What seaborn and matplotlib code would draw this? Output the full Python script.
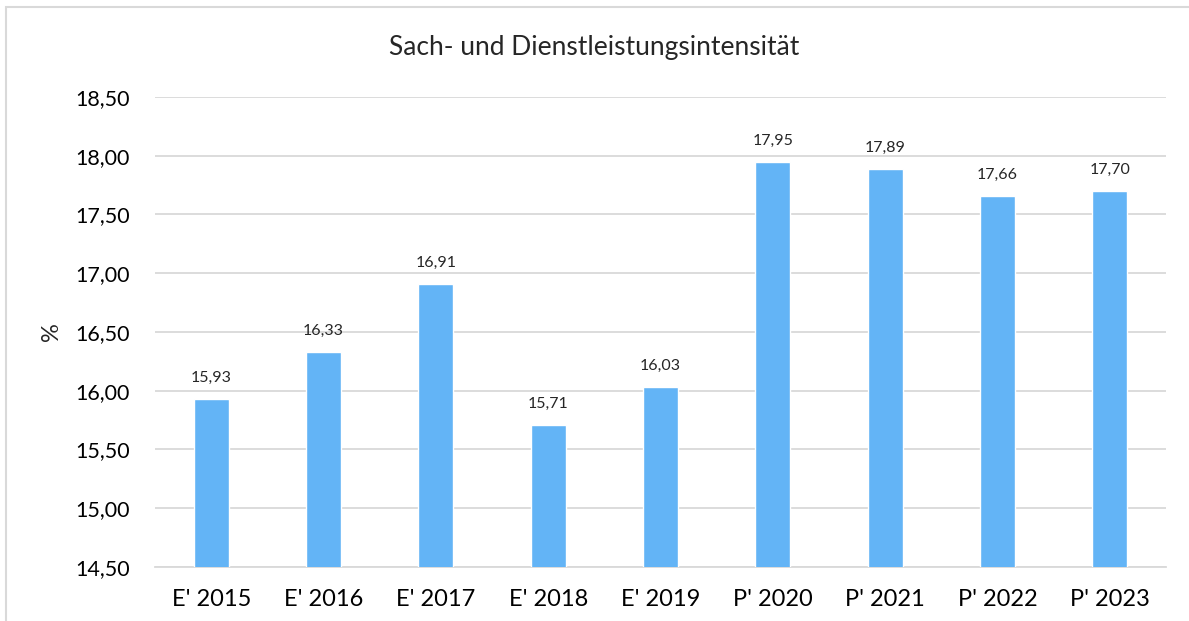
import matplotlib
matplotlib.use("Agg")
import matplotlib.pyplot as plt
import pandas as pd
import seaborn as sns
from matplotlib.patches import Rectangle

categories = ["E' 2015", "E' 2016", "E' 2017", "E' 2018", "E' 2019",
              "P' 2020", "P' 2021", "P' 2022", "P' 2023"]
values = [15.93, 16.33, 16.91, 15.71, 16.03, 17.95, 17.89, 17.66, 17.70]
yticks = [14.50, 15.00, 15.50, 16.00, 16.50, 17.00, 17.50, 18.00, 18.50]

df = pd.DataFrame({"Jahr": categories, "Wert": values})

sns.set_style("white")
plt.rcParams["font.family"] = ["Lato", "DejaVu Sans"]

fig = plt.figure(figsize=(11.89, 6.21), dpi=100)
ax = fig.add_axes([0.1304, 0.087, 0.8503, 0.7568])

sns.barplot(data=df, x="Jahr", y="Wert", color="#63B4F6", width=0.31,
            saturation=1, ax=ax, zorder=3)

ax.set_ylim(14.5, 18.5)
ax.set_yticks(yticks)
ax.set_yticklabels([f"{v:.2f}".replace(".", ",") for v in yticks])
ax.set_xlim(-0.5, len(categories) - 0.5)
ax.grid(axis="y", color="#D9D9D9", linewidth=1.3, zorder=0)
for side in ["top", "right", "left"]:
    ax.spines[side].set_visible(False)
ax.spines["bottom"].set_color("#D9D9D9")
ax.spines["bottom"].set_linewidth(1.3)
ax.tick_params(axis="y", length=0, labelsize=15.5, pad=18, colors="black")
ax.tick_params(axis="x", length=0, labelsize=17, pad=16, colors="black")

for i, v in enumerate(values):
    ax.annotate(f"{v:.2f}".replace(".", ","), (i, v), xytext=(0, 10),
                textcoords="offset points", ha="center", va="bottom",
                fontsize=11.5)

ax.set_xlabel("")
ax.set_ylabel("%", fontsize=17, labelpad=10)
fig.text(0.5, 0.924, "Sach- und Dienstleistungsintensität", ha="center",
         va="center", fontsize=19)

fig.patches.append(Rectangle((6 / 1189, -0.1), 1.2, 1.1 - 7 / 621,
                             transform=fig.transFigure, fill=False,
                             edgecolor="#D9D9D9", linewidth=1.5))

fig.savefig("out.png", dpi=100)
plt.close(fig)
